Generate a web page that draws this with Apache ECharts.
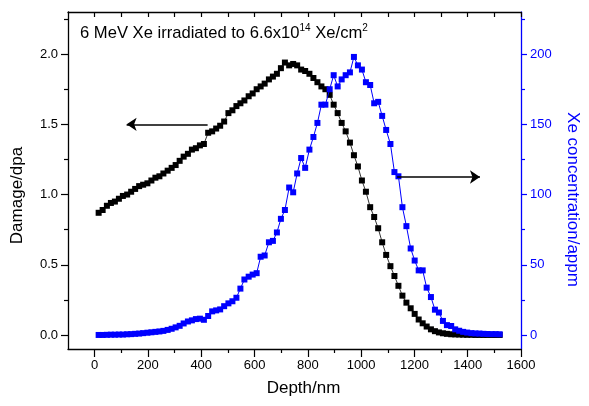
<!DOCTYPE html>
<html>
<head>
<meta charset="utf-8">
<script src="https://cdn.jsdelivr.net/npm/echarts@6/dist/echarts.min.js"></script>
<style>
html,body{margin:0;padding:0;background:#fff;}
#chart{width:589px;height:406px;}
</style>
</head>
<body>
<div id="chart"></div>
<script>
const depth = [15,30,46,61,76,91,106,122,137,152,167,182,198,213,228,243,258,274,289,304,
319,334,350,365,380,395,410,426,441,456,471,486,502,517,532,547,562,578,593,608,
623,638,654,669,684,699,714,730,745,760,775,790,806,821,836,851,866,882,897,912,
927,942,958,973,988,1003,1018,1034,1049,1064,1079,1094,1110,1125,1140,1155,1170,1186,1201,1216,
1231,1246,1262,1277,1292,1307,1322,1338,1353,1368,1383,1398,1414,1429,1444,1459,1474,1490,1505,1520];

const damage = [0.87,0.89,0.92,0.94,0.95,0.97,0.99,1.00,1.02,1.04,
1.06,1.07,1.08,1.10,1.12,1.13,1.15,1.17,1.19,1.21,
1.24,1.27,1.29,1.32,1.33,1.35,1.36,1.44,1.45,1.47,
1.49,1.52,1.58,1.60,1.63,1.65,1.67,1.70,1.72,1.75,
1.77,1.79,1.82,1.84,1.86,1.90,1.94,1.92,1.93,1.92,
1.89,1.88,1.86,1.83,1.80,1.77,1.75,1.71,1.64,1.58,
1.51,1.45,1.37,1.28,1.20,1.10,1.02,0.91,0.84,0.76,
0.66,0.57,0.49,0.42,0.35,0.28,0.23,0.19,0.15,0.11,
0.083,0.06,0.04,0.027,0.018,0.012,0.008,0.005,0.004,0.003,
0.002,0.001,0.001,0,0,0,0,0,0,0];

const xeConc = [0,0,0.1,0.2,0.2,0.3,0.3,0.5,0.6,0.8,
1.0,1.3,1.6,1.9,2.2,2.5,2.9,3.6,4.4,5.4,
6.5,8.2,9.6,10.4,11.3,11.6,10.8,13.5,16.8,17.5,
18.2,20.5,22.5,24.0,26.5,33.0,39.5,41.5,43.0,44.0,
55.7,56.6,66,67,73,82.7,89,105,101.6,115,
126,119,132,141,151,164,164,175,185,177,
182,185,187,198,192,189,180,178,165,166,
156,146,136,116,113,91,77.5,61.6,53,46,
46,33.7,27,18,16,10,7,6.4,4,3,
2.2,1.7,1.3,1.1,1.0,0.8,0.7,0.6,0.6,0.5];

const xTicks = [0,200,400,600,800,1000,1200,1400,1600];
const xMinorTicks = [100,300,500,700,900,1100,1300,1500];
const xTopTicks = [0,100,200,300,400,500,600,700,800,900,1000,1100,1200,1300,1400,1500,1600];
const leftTicks = [0,0.5,1.0,1.5,2.0];
const leftMinorTicks = [0.25,0.75,1.25,1.75,2.25];
const rightTicks = [0,50,100,150,200];
const rightMinorTicks = [25,75,125,175,225];

const FONT = '"Liberation Sans", Arial, sans-serif';
const BLUE = '#0000ff';

const chart = echarts.init(document.getElementById('chart'), null, {renderer:'canvas'});

function minorYAxis(pos, min, max, vals, color){
  return {type:'value', position:pos, min:min, max:max,
    axisLine:{show:false, onZero:false}, splitLine:{show:false},
    axisLabel:{show:false},
    axisTick:{show:true, customValues:vals, length:4, lineStyle:{color:color, width:1.2}}};
}

const option = {
  animation:false,
  backgroundColor:'#fff',
  title:{
    left:80, top:23, padding:0,
    text:'6 MeV Xe irradiated to 6.6x10{sup|14} Xe/cm{sup|2}',
    textStyle:{fontFamily:FONT, fontSize:16.6, fontWeight:'normal', color:'#000',
      rich:{sup:{fontFamily:FONT, fontSize:10, color:'#000', padding:[0,0,10,0]}}}
  },
  grid:{left:68, right:60, top:12, bottom:57, containLabel:false},
  xAxis:[
    {type:'value', position:'bottom', min:-100, max:1600,
      name:'Depth/nm', nameLocation:'middle', nameGap:31,
      nameTextStyle:{fontFamily:FONT, fontSize:17, color:'#000', padding:[0,0,0,18]},
      axisLine:{onZero:false, lineStyle:{color:'#000', width:1.3}},
      axisTick:{show:true, customValues:xTicks, length:8, lineStyle:{color:'#000', width:1.2}},
      axisLabel:{customValues:xTicks, fontFamily:FONT, fontSize:13, color:'#000', margin:10,
        formatter:function(v){return String(v);}},
      splitLine:{show:false}},
    {type:'value', position:'bottom', min:-100, max:1600,
      axisLine:{show:false, onZero:false}, splitLine:{show:false}, axisLabel:{show:false},
      axisTick:{show:true, customValues:xMinorTicks, length:4, lineStyle:{color:'#000', width:1.2}}},
    {type:'value', position:'top', min:-100, max:1600,
      axisLine:{show:true, onZero:false, lineStyle:{color:'#000', width:1.3}}, splitLine:{show:false}, axisLabel:{show:false},
      axisTick:{show:true, inside:true, customValues:xTopTicks, length:5, lineStyle:{color:'#000', width:1.2}}}
  ],
  yAxis:[
    {type:'value', position:'left', min:-0.1, max:2.3,
      name:'Damage/dpa', nameLocation:'middle', nameGap:42, nameRotate:90,
      nameTextStyle:{fontFamily:FONT, fontSize:17, color:'#000', padding:[0,30,0,0]},
      axisLine:{show:true, onZero:false, lineStyle:{color:'#000', width:1.3}},
      axisTick:{show:true, customValues:leftTicks, length:7, lineStyle:{color:'#000', width:1.2}},
      axisLabel:{customValues:leftTicks, fontFamily:FONT, fontSize:13, color:'#000', margin:10,
        formatter:function(v){return v.toFixed(1);}},
      splitLine:{show:false}},
    {type:'value', position:'right', min:-10, max:230,
      name:'Xe concentration/appm', nameLocation:'middle', nameGap:43, nameRotate:-90,
      nameTextStyle:{fontFamily:FONT, fontSize:17, color:BLUE, padding:[0,0,0,38]},
      axisLine:{show:true, onZero:false, lineStyle:{color:BLUE, width:1.3}},
      axisTick:{show:true, customValues:rightTicks, length:6, lineStyle:{color:BLUE, width:1.2}},
      axisLabel:{customValues:rightTicks, fontFamily:FONT, fontSize:13, color:BLUE, margin:9},
      splitLine:{show:false}},
    minorYAxis('left', -0.1, 2.3, leftMinorTicks, '#000'),
    minorYAxis('right', -10, 230, rightMinorTicks, BLUE)
  ],
  series:[
    {name:'Damage', type:'line', xAxisIndex:0, yAxisIndex:0,
      data:depth.map((d,i)=>[d,damage[i]]),
      symbol:'rect', symbolSize:6, showSymbol:true,
      itemStyle:{color:'#000'}, lineStyle:{color:'#000', width:0.8},
      z:2, silent:true,
      markLine:{silent:true, symbol:['none','arrow'], symbolSize:10,
        lineStyle:{color:'#000', width:1.5, type:'solid'}, label:{show:false},
        data:[[{coord:[424,1.5]},{coord:[120,1.5]}]]}
    },
    {name:'Xe', type:'line', xAxisIndex:0, yAxisIndex:1,
      data:depth.map((d,i)=>[d,xeConc[i]]),
      symbol:'rect', symbolSize:6, showSymbol:true,
      itemStyle:{color:BLUE}, lineStyle:{color:BLUE, width:1},
      z:3, silent:true,
      markLine:{silent:true, symbol:['none','arrow'], symbolSize:10,
        lineStyle:{color:'#000', width:1.5, type:'solid'}, label:{show:false},
        data:[[{coord:[1135,112.5]},{coord:[1446,112.5]}]]}
    }
  ]
};
chart.setOption(option);
</script>
</body>
</html>
